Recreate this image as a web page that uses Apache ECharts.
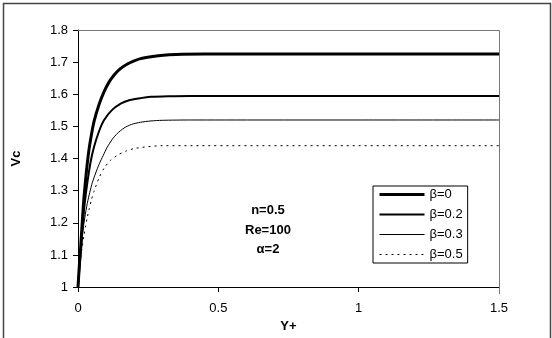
<!DOCTYPE html>
<html>
<head>
<meta charset="utf-8">
<script src="https://cdn.jsdelivr.net/npm/echarts@6/dist/echarts.min.js"></script>
<style>
  html, body { margin: 0; padding: 0; background: #fff; }
  #chart { width: 552px; height: 338px; }
</style>
</head>
<body>
<div id="chart"></div>
<script>
// values: [Y+, Vc]
const beta0 = [[0, 1.0], [0.005, 1.07], [0.0095, 1.124], [0.015, 1.2], [0.021, 1.276], [0.03, 1.36],
  [0.039, 1.427], [0.048, 1.475], [0.057, 1.515], [0.075, 1.568], [0.093, 1.608], [0.11, 1.637],
  [0.128, 1.659], [0.15, 1.679], [0.176, 1.694], [0.2, 1.704], [0.223, 1.711], [0.26, 1.717],
  [0.295, 1.721], [0.35, 1.724], [0.45, 1.725], [1.5, 1.725]]
const beta02 = [[0, 1.0], [0.005, 1.06], [0.01, 1.11], [0.015, 1.17], [0.021, 1.235], [0.028, 1.29],
  [0.035, 1.335], [0.045, 1.39], [0.057, 1.436], [0.075, 1.485], [0.093, 1.52], [0.12, 1.55],
  [0.152, 1.571], [0.185, 1.582], [0.223, 1.588], [0.26, 1.592], [0.32, 1.594], [0.4, 1.595], [1.5, 1.595]]
const beta03 = [[0, 1.0], [0.005, 1.06], [0.01, 1.115], [0.015, 1.16], [0.024, 1.215], [0.033, 1.26],
  [0.042, 1.295], [0.051, 1.325], [0.063, 1.355], [0.075, 1.382], [0.09, 1.41], [0.104, 1.435],
  [0.122, 1.46], [0.14, 1.478], [0.164, 1.495], [0.19, 1.506], [0.223, 1.513], [0.26, 1.517],
  [0.3, 1.519], [0.4, 1.52], [1.5, 1.52]]
const beta05 = [[0, 1.0], [0.006, 1.06], [0.01, 1.095], [0.015, 1.125], [0.021, 1.16], [0.027, 1.19],
  [0.033, 1.217], [0.039, 1.24], [0.048, 1.272], [0.057, 1.298], [0.075, 1.34], [0.093, 1.37],
  [0.115, 1.394], [0.14, 1.41], [0.17, 1.423], [0.2, 1.431], [0.25, 1.437], [0.3, 1.44], [1.5, 1.44]]

const seriesNames = ['β=0', 'β=0.2', 'β=0.3', 'β=0.5']
const annotation = ['n=0.5', 'Re=100', 'α=2']

const FONT = 'Liberation Sans, Arial, sans-serif'

const chart = echarts.init(document.getElementById('chart'), null, { renderer: 'canvas' })

function lineSeries(name, data, width, type) {
  return {
    name: name,
    type: 'line',
    data: data,
    symbol: 'none',
    smooth: 0.25,
    lineStyle: { color: '#000', width: width, type: type },
    itemStyle: { color: '#000' },
    animation: false
  }
}

const option = {
  animation: false,
  backgroundColor: '#fff',
  grid: { left: 78, top: 30, right: 53, bottom: 44 },
  legend: {
    orient: 'vertical',
    left: 373,
    top: 186,
    padding: [2, 5, 2, 5],
    itemWidth: 45,
    itemHeight: 14,
    itemGap: 7,
    borderColor: '#000',
    borderWidth: 1,
    borderRadius: 0,
    backgroundColor: '#fff',
    itemStyle: { opacity: 0 },
    lineStyle: { width: 'inherit' },
    textStyle: { fontFamily: FONT, fontSize: 13, color: '#000', padding: [0, 0, 0, 0] },
    data: seriesNames
  },
  xAxis: {
    type: 'value',
    min: 0,
    max: 1.5,
    interval: 0.5,
    name: 'Y+',
    nameLocation: 'middle',
    nameGap: 31,
    nameTextStyle: { fontFamily: FONT, fontSize: 13, fontWeight: 'bold', color: '#000' },
    axisLine: { show: true, lineStyle: { color: '#000', width: 1 } },
    axisTick: { show: true, length: 5, lineStyle: { color: '#000' } },
    axisLabel: { fontFamily: FONT, fontSize: 13, color: '#000', margin: 15 },
    splitLine: { show: false }
  },
  yAxis: {
    type: 'value',
    min: 1,
    max: 1.8,
    interval: 0.1,
    name: 'Vc',
    nameLocation: 'middle',
    nameGap: 55,
    nameTextStyle: { fontFamily: FONT, fontSize: 13, fontWeight: 'bold', color: '#000' },
    axisLine: { show: true, lineStyle: { color: '#000', width: 1 } },
    axisTick: { show: true, length: 5, lineStyle: { color: '#000' } },
    axisLabel: { fontFamily: FONT, fontSize: 13, color: '#000', margin: 10 },
    splitLine: { show: false }
  },
  graphic: [
    // outer frame
    {
      type: 'rect', left: 1, top: 1, z: -1,
      shape: { width: 547, height: 345 },
      style: { fill: 'none', stroke: '#444', lineWidth: 1.5 }
    },
    // plot area top/right border
    {
      type: 'polyline', z: 1,
      shape: { points: [[78, 30.5], [499.5, 30.5], [499.5, 294]] },
      style: { fill: 'none', stroke: '#777', lineWidth: 1 }
    },
    {
      type: 'group', left: 245, top: 204,
      children: annotation.map((t, i) => ({
        type: 'text', x: 30, y: i * 19.5,
        style: { text: t, fontFamily: FONT, fontSize: 13, fontWeight: 'bold', fill: '#000', align: 'center' }
      }))
    }
  ],
  series: [
    lineSeries(seriesNames[0], beta0, 3, 'solid'),
    lineSeries(seriesNames[1], beta02, 2, 'solid'),
    lineSeries(seriesNames[2], beta03, 1, 'solid'),
    lineSeries(seriesNames[3], beta05, 1, [2, 4])
  ]
}

chart.setOption(option)
</script>
</body>
</html>
